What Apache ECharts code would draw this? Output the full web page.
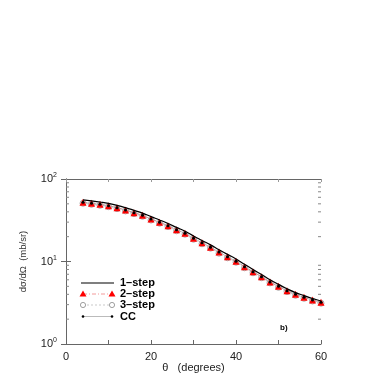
<!DOCTYPE html>
<html><head><meta charset="utf-8">
<script src="https://cdn.jsdelivr.net/npm/echarts@6/dist/echarts.min.js"></script>
<style>html,body{margin:0;padding:0;background:#fff}#c{width:388px;height:388px}</style>
</head><body><div id="c"></div>
<script>
var theta = [4,6,8,10,12,14,16,18,20,22,24,26,28,30,32,34,36,38,40,42,44,46,48,50,52,54,56,58,60];
var oneStep = [55.8,54.3,52.6,50.6,47.9,44.9,41.7,38.6,35.0,31.9,28.9,25.9,23.3,20.4,18.0,15.9,13.9,12.2,10.75,9.25,8.0,6.97,6.02,5.28,4.68,4.2,3.86,3.56,3.32];
var twoStep = [52.2,50.7,49.3,47.5,44.9,42.1,39.1,36.3,32.7,29.9,27.2,24.3,22.0,19.1,16.9,14.9,13.0,11.4,10.1,8.65,7.52,6.54,5.65,5.0,4.43,4.0,3.68,3.41,3.2];
var threeStep = [50.8,49.3,48.0,46.2,43.7,41.0,38.0,35.3,31.8,29.1,26.5,23.6,21.4,18.6,16.4,14.5,12.6,11.1,9.8,8.4,7.3,6.36,5.5,4.86,4.31,3.89,3.58,3.32,3.12];
var cc = [52.2,50.7,49.3,47.5,44.9,42.1,39.1,36.3,32.7,29.9,27.2,24.3,22.0,19.1,16.9,14.9,13.0,11.4,10.1,8.65,7.52,6.54,5.65,5.0,4.43,4.0,3.68,3.41,3.2];
var minorY = [2,3,4,5,6,7,8,9,20,30,40,50,60,70,80,90];
var xTickLabels = [0,20,40,60];
var legendNames = ['1\u2013step','2\u2013step','3\u2013step','CC'];

function pairs(ys){return theta.map(function(t,i){return [t,ys[i]];});}
var FONT = '"Liberation Sans", Arial, sans-serif';
var axisCol = '#666';

var chart = echarts.init(document.getElementById('c'), null, {renderer:'canvas'});

var legendG = [];
var rowsY = [283, 294, 305, 316.5];
var lx1 = 83, lx2 = 112, tx = 120;
legendG.push({type:'line', shape:{x1:lx1-2,y1:rowsY[0],x2:lx2+2,y2:rowsY[0]}, style:{stroke:'#000',lineWidth:1.2}});
legendG.push({type:'line', shape:{x1:lx1,y1:rowsY[1],x2:lx2,y2:rowsY[1]}, style:{stroke:'#f08080',lineWidth:0.8,lineDash:[4,2,1,2]}});
[lx1,lx2].forEach(function(x){legendG.push({type:'polygon', shape:{points:[[x,rowsY[1]-3.5],[x-3.5,rowsY[1]+2.5],[x+3.5,rowsY[1]+2.5]]}, style:{fill:'#ff0000'}});});
legendG.push({type:'line', shape:{x1:lx1,y1:rowsY[2],x2:lx2,y2:rowsY[2]}, style:{stroke:'#bbb',lineWidth:0.8,lineDash:[2,2]}});
[lx1,lx2].forEach(function(x){legendG.push({type:'circle', shape:{cx:x,cy:rowsY[2],r:2.6}, style:{fill:'#fff',stroke:'#888',lineWidth:0.8}});});
legendG.push({type:'line', shape:{x1:lx1,y1:rowsY[3],x2:lx2,y2:rowsY[3]}, style:{stroke:'#aaa',lineWidth:0.8}});
[lx1,lx2].forEach(function(x){legendG.push({type:'circle', shape:{cx:x,cy:rowsY[3],r:1.3}, style:{fill:'#000'}});});
legendNames.forEach(function(n,i){
  legendG.push({type:'text', x:tx, y:rowsY[i], style:{text:n, font:'bold 11px '+FONT, fill:'#000', verticalAlign:'middle'}});
});
legendG.push({type:'text', x:280, y:328, style:{text:'b)', font:'bold 8px '+FONT, fill:'#000', verticalAlign:'middle'}});

function yLabel(v){
  var e = Math.round(Math.log10(v));
  return '{b|10}{s|'+e+'}';
}

var option = {
  animation:false,
  backgroundColor:'#fff',
  grid:{left:66, top:179, width:255, height:165},
  xAxis:[{
    type:'value', min:0, max:60, interval:10, position:'bottom',
    axisLine:{lineStyle:{color:axisCol,width:1}},
    axisTick:{inside:true,length:4,lineStyle:{color:axisCol}},
    axisLabel:{fontFamily:FONT,fontSize:11,color:'#222',margin:7,
      formatter:function(v){return xTickLabels.indexOf(v)>=0? String(v):'';}},
    splitLine:{show:false},
    name:'\u03b8   (degrees)', nameLocation:'middle', nameGap:16,
    nameTextStyle:{fontFamily:FONT,fontSize:11,color:'#222'}
  },{
    type:'value', min:0, max:60, interval:10, position:'top',
    axisLine:{lineStyle:{color:axisCol,width:1}},
    axisTick:{inside:true,length:3,lineStyle:{color:'#999'}},
    axisLabel:{show:false}, splitLine:{show:false}
  }],
  yAxis:[{
    type:'log', logBase:10, min:1, max:100, position:'left',
    axisLine:{show:true,lineStyle:{color:axisCol,width:1}},
    axisTick:{show:true,inside:true,length:5,lineStyle:{color:axisCol}},
    axisLabel:{fontFamily:FONT,fontSize:11,color:'#222',margin:9,formatter:yLabel,
      rich:{b:{fontFamily:FONT,fontSize:11,color:'#222'},s:{fontFamily:FONT,fontSize:7,color:'#222',padding:[0,0,7,0]}}},
    splitLine:{show:false},
    name:'d\u03c3/d\u03a9  (mb/sr)', nameLocation:'middle', nameGap:38, nameRotate:90,
    nameTextStyle:{fontFamily:FONT,fontSize:9.5,color:'#333'}
  },{
    type:'log', logBase:10, min:1, max:100, position:'right',
    axisLine:{show:true,lineStyle:{color:axisCol,width:1}},
    axisTick:{show:true,inside:true,length:5,lineStyle:{color:axisCol}},
    axisLabel:{show:false}, splitLine:{show:false}
  }],
  graphic:legendG,
  series:[
    {type:'custom', xAxisIndex:0, yAxisIndex:0, silent:true, z:1,
      data:minorY.map(function(v){return [0,v];}),
      renderItem:function(params, api){
        var v = api.value(1);
        var pL = api.coord([0,v]), pR = api.coord([60,v]);
        return {type:'group', children:[
          {type:'line', shape:{x1:pL[0],y1:pL[1],x2:pL[0]+3,y2:pL[1]}, style:{stroke:'#888',lineWidth:1}},
          {type:'line', shape:{x1:pR[0]-3,y1:pR[1],x2:pR[0],y2:pR[1]}, style:{stroke:'#888',lineWidth:1}}
        ]};
      }},
    {name:'3-step', type:'line', data:pairs(threeStep), symbol:'circle', symbolSize:6,
      itemStyle:{color:'#fff',borderColor:'#aaa',borderWidth:1},
      lineStyle:{color:'#bbb',width:0.8,type:[2,2]}, z:2},
    {name:'2-step', type:'line', data:pairs(twoStep), symbol:'triangle', symbolSize:7,
      itemStyle:{color:'#ff0000',borderWidth:0},
      lineStyle:{color:'#f08080',width:0.8,type:[4,2,1,2]}, z:3},
    {name:'1-step', type:'line', data:pairs(oneStep), symbol:'none', smooth:true,
      lineStyle:{color:'#000',width:1.2}, z:4},
    {name:'CC', type:'line', data:pairs(cc), symbol:'circle', symbolSize:3,
      itemStyle:{color:'#000'}, lineStyle:{color:'#999',width:0.6}, z:5}
  ]
};
chart.setOption(option);
</script></body></html>
